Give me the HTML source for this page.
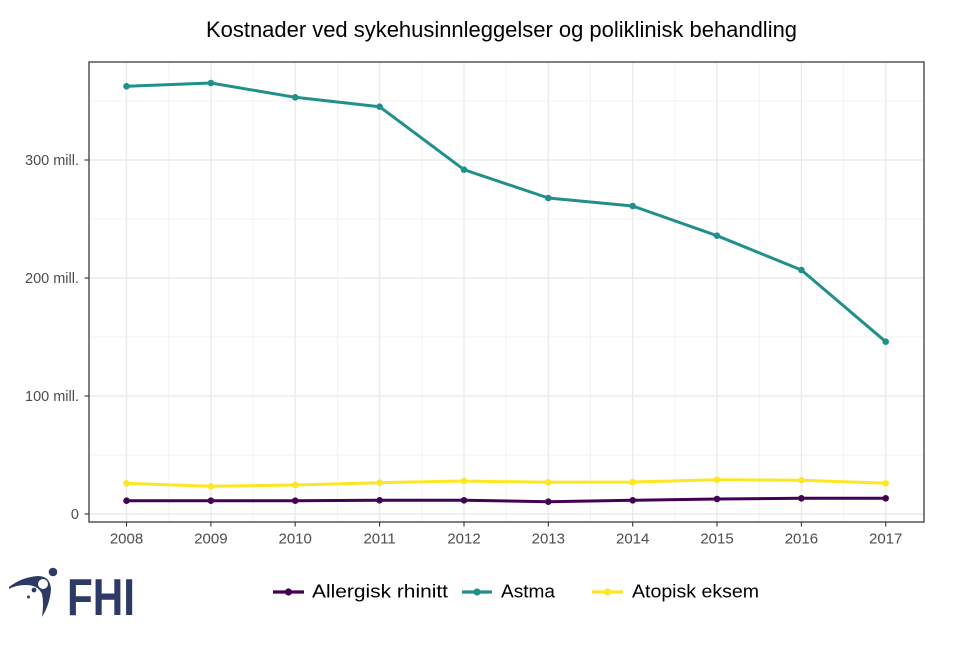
<!DOCTYPE html>
<html>
<head>
<meta charset="utf-8">
<style>
  html, body { margin:0; padding:0; background:#fff; }
  svg { display:block; }
</style>
</head>
<body>
<svg width="970" height="647" viewBox="0 0 970 647" xmlns="http://www.w3.org/2000/svg">
  <rect x="0" y="0" width="970" height="647" fill="#fff"/>
  <!-- Title -->
  <text x="206" y="37" font-family="Liberation Sans, sans-serif" font-size="22" fill="#000" textLength="591" lengthAdjust="spacingAndGlyphs">Kostnader ved sykehusinnleggelser og poliklinisk behandling</text>

  <!-- Panel background -->
  <rect x="89" y="62" width="835" height="460" fill="#fff"/>
  <!-- minor grid -->
  <g stroke="#F2F2F2" stroke-width="1">
    <line x1="89" x2="924" y1="455" y2="455"/>
    <line x1="89" x2="924" y1="337" y2="337"/>
    <line x1="89" x2="924" y1="219" y2="219"/>
    <line x1="89" x2="924" y1="101" y2="101"/>
    <line x1="168.7" x2="168.7" y1="62" y2="522"/>
    <line x1="253.1" x2="253.1" y1="62" y2="522"/>
    <line x1="337.4" x2="337.4" y1="62" y2="522"/>
    <line x1="421.8" x2="421.8" y1="62" y2="522"/>
    <line x1="506.2" x2="506.2" y1="62" y2="522"/>
    <line x1="590.5" x2="590.5" y1="62" y2="522"/>
    <line x1="674.9" x2="674.9" y1="62" y2="522"/>
    <line x1="759.2" x2="759.2" y1="62" y2="522"/>
    <line x1="843.6" x2="843.6" y1="62" y2="522"/>
  </g>
  <!-- major grid -->
  <g stroke="#EBEBEB" stroke-width="1.4">
    <line x1="89" x2="924" y1="514" y2="514"/>
    <line x1="89" x2="924" y1="396" y2="396"/>
    <line x1="89" x2="924" y1="278" y2="278"/>
    <line x1="89" x2="924" y1="160" y2="160"/>
    <line x1="126.5" x2="126.5" y1="62" y2="522"/>
    <line x1="210.9" x2="210.9" y1="62" y2="522"/>
    <line x1="295.2" x2="295.2" y1="62" y2="522"/>
    <line x1="379.6" x2="379.6" y1="62" y2="522"/>
    <line x1="464" x2="464" y1="62" y2="522"/>
    <line x1="548.3" x2="548.3" y1="62" y2="522"/>
    <line x1="632.7" x2="632.7" y1="62" y2="522"/>
    <line x1="717" x2="717" y1="62" y2="522"/>
    <line x1="801.4" x2="801.4" y1="62" y2="522"/>
    <line x1="885.7" x2="885.7" y1="62" y2="522"/>
  </g>

  <!-- Series -->
  <g fill="none" stroke-width="3" stroke-linejoin="round" stroke-linecap="round">
    <polyline stroke="#440154" points="126.5,500.7 210.9,500.7 295.2,500.7 379.6,500.3 464,500.3 548.3,501.7 632.7,500.3 717,499 801.4,498.3 885.7,498.3"/>
    <polyline stroke="#21908C" points="126.5,86.3 210.9,83 295.2,97.3 379.6,106.7 464,169.7 548.3,198 632.7,206 717,235.7 801.4,270 885.7,341.7"/>
    <polyline stroke="#FDE725" points="126.5,483.3 210.9,486.3 295.2,485 379.6,482.7 464,481 548.3,482.3 632.7,482 717,479.7 801.4,480.3 885.7,483.3"/>
  </g>
  <g fill="#440154">
    <circle cx="126.5" cy="500.7" r="3.3"/><circle cx="210.9" cy="500.7" r="3.3"/><circle cx="295.2" cy="500.7" r="3.3"/><circle cx="379.6" cy="500.3" r="3.3"/><circle cx="464" cy="500.3" r="3.3"/><circle cx="548.3" cy="501.7" r="3.3"/><circle cx="632.7" cy="500.3" r="3.3"/><circle cx="717" cy="499" r="3.3"/><circle cx="801.4" cy="498.3" r="3.3"/><circle cx="885.7" cy="498.3" r="3.3"/>
  </g>
  <g fill="#21908C">
    <circle cx="126.5" cy="86.3" r="3.3"/><circle cx="210.9" cy="83" r="3.3"/><circle cx="295.2" cy="97.3" r="3.3"/><circle cx="379.6" cy="106.7" r="3.3"/><circle cx="464" cy="169.7" r="3.3"/><circle cx="548.3" cy="198" r="3.3"/><circle cx="632.7" cy="206" r="3.3"/><circle cx="717" cy="235.7" r="3.3"/><circle cx="801.4" cy="270" r="3.3"/><circle cx="885.7" cy="341.7" r="3.3"/>
  </g>
  <g fill="#FDE725">
    <circle cx="126.5" cy="483.3" r="3.3"/><circle cx="210.9" cy="486.3" r="3.3"/><circle cx="295.2" cy="485" r="3.3"/><circle cx="379.6" cy="482.7" r="3.3"/><circle cx="464" cy="481" r="3.3"/><circle cx="548.3" cy="482.3" r="3.3"/><circle cx="632.7" cy="482" r="3.3"/><circle cx="717" cy="479.7" r="3.3"/><circle cx="801.4" cy="480.3" r="3.3"/><circle cx="885.7" cy="483.3" r="3.3"/>
  </g>

  <!-- Panel border -->
  <rect x="89" y="62" width="835" height="460" fill="none" stroke="#555" stroke-width="1.5"/>

  <!-- Y ticks -->
  <g stroke="#333" stroke-width="1.1">
    <line x1="84.5" x2="89" y1="514" y2="514"/>
    <line x1="84.5" x2="89" y1="396" y2="396"/>
    <line x1="84.5" x2="89" y1="278" y2="278"/>
    <line x1="84.5" x2="89" y1="160" y2="160"/>
  </g>
  <g font-family="Liberation Sans, sans-serif" font-size="14.5" fill="#4D4D4D" text-anchor="end">
    <text x="79" y="519">0</text>
    <text x="79" y="401">100 mill.</text>
    <text x="79" y="283">200 mill.</text>
    <text x="79" y="165">300 mill.</text>
  </g>

  <!-- X ticks -->
  <g stroke="#333" stroke-width="1.1">
    <line x1="126.5" x2="126.5" y1="522" y2="526.5"/>
    <line x1="210.9" x2="210.9" y1="522" y2="526.5"/>
    <line x1="295.2" x2="295.2" y1="522" y2="526.5"/>
    <line x1="379.6" x2="379.6" y1="522" y2="526.5"/>
    <line x1="464" x2="464" y1="522" y2="526.5"/>
    <line x1="548.3" x2="548.3" y1="522" y2="526.5"/>
    <line x1="632.7" x2="632.7" y1="522" y2="526.5"/>
    <line x1="717" x2="717" y1="522" y2="526.5"/>
    <line x1="801.4" x2="801.4" y1="522" y2="526.5"/>
    <line x1="885.7" x2="885.7" y1="522" y2="526.5"/>
  </g>
  <g font-family="Liberation Sans, sans-serif" font-size="15" fill="#4D4D4D" text-anchor="middle">
    <text x="126.5" y="543.5">2008</text>
    <text x="210.9" y="543.5">2009</text>
    <text x="295.2" y="543.5">2010</text>
    <text x="379.6" y="543.5">2011</text>
    <text x="464" y="543.5">2012</text>
    <text x="548.3" y="543.5">2013</text>
    <text x="632.7" y="543.5">2014</text>
    <text x="717" y="543.5">2015</text>
    <text x="801.4" y="543.5">2016</text>
    <text x="885.7" y="543.5">2017</text>
  </g>

  <!-- Legend -->
  <g stroke-width="3.2">
    <line x1="273" x2="304" y1="592" y2="592" stroke="#440154"/>
    <line x1="462" x2="492" y1="592" y2="592" stroke="#21908C"/>
    <line x1="592" x2="623" y1="592" y2="592" stroke="#FDE725"/>
  </g>
  <circle cx="288.5" cy="592" r="3.6" fill="#440154"/>
  <circle cx="477" cy="592" r="3.6" fill="#21908C"/>
  <circle cx="607.5" cy="592" r="3.6" fill="#FDE725"/>
  <g font-family="Liberation Sans, sans-serif" font-size="18" fill="#000">
    <text x="312" y="597.5" textLength="136" lengthAdjust="spacingAndGlyphs">Allergisk rhinitt</text>
    <text x="501" y="597.5" textLength="54" lengthAdjust="spacingAndGlyphs">Astma</text>
    <text x="632" y="597.5" textLength="127" lengthAdjust="spacingAndGlyphs">Atopisk eksem</text>
  </g>

  <!-- FHI logo -->
  <g fill="#2D3A66">
    <path d="M9,587 Q22,577 38,576 Q50,576 51,589 Q50,604 42,617 Q44,603 42,594 Q38,585 26,585 Q16,585 9,589 Z"/>
    <circle cx="53" cy="572" r="4.3"/>
    <circle cx="34" cy="590" r="2.4"/>
    <circle cx="28.5" cy="597" r="1.5"/>
    <text x="67" y="615" font-family="Liberation Sans, sans-serif" font-weight="bold" font-size="52" textLength="68" lengthAdjust="spacingAndGlyphs">FHI</text>
  </g>
  <circle cx="43" cy="584" r="5" fill="#fff"/>
</svg>
</body>
</html>
